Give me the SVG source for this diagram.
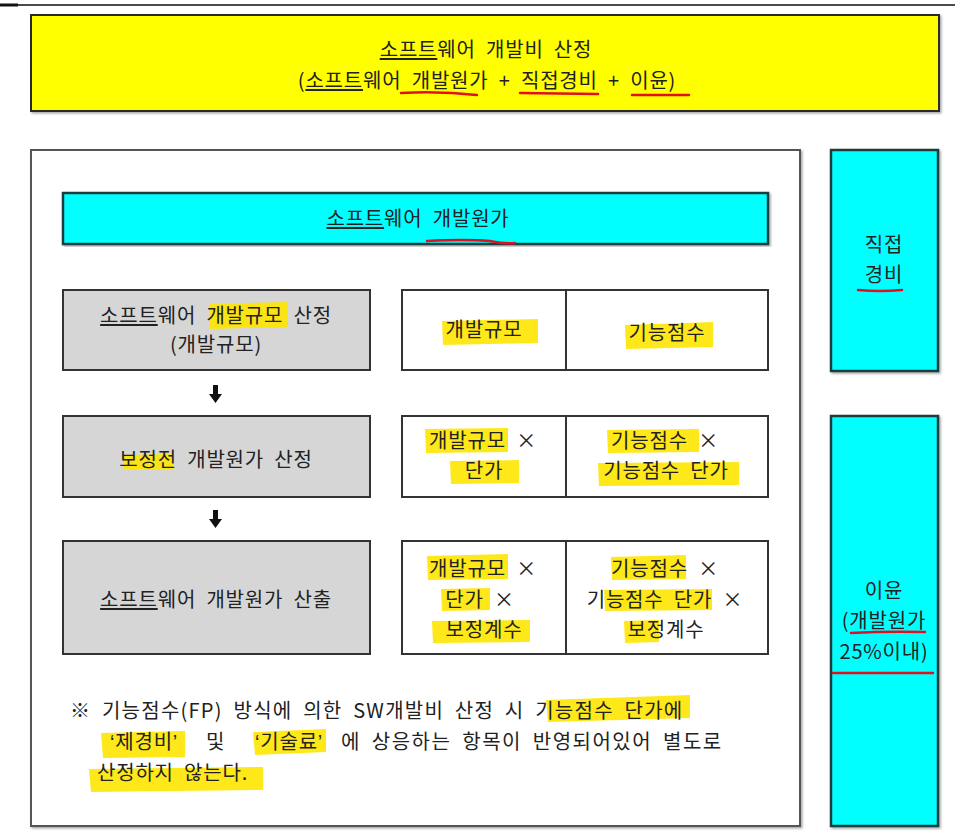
<svg xmlns="http://www.w3.org/2000/svg" width="955" height="834" viewBox="0 0 955 834">
<defs>
<style>
text{font-family:"Noto Sans CJK KR","Noto Sans",sans-serif;font-size:20px;fill:#222;letter-spacing:0.8px;word-spacing:5px;text-anchor:middle}
.note{text-anchor:start}
.q{font-family:"Liberation Sans",sans-serif}
.u{text-decoration:underline}
.box{stroke:#2a2a2a;stroke-width:2}
.gray{fill:#d6d6d6;stroke:#333;stroke-width:2}
.cell{fill:#fff;stroke:#333;stroke-width:2}
.cyan{fill:#00ffff;stroke:#1d3d3d;stroke-width:2.5}
.hl{fill:#ffe600;opacity:0.9}
.red{fill:none;stroke:#e01020;stroke-width:2.5;stroke-linecap:round}
</style>
<filter id="sh" x="-5%" y="-5%" width="110%" height="110%"><feDropShadow dx="1.5" dy="1.5" stdDeviation="1" flood-color="#000" flood-opacity="0.35"/></filter>
</defs>
<rect width="955" height="834" fill="#fff"/>
<line x1="0" y1="5" x2="955" y2="5" stroke="#111" stroke-width="1.5"/>
<line x1="0" y1="5" x2="18" y2="5" stroke="#111" stroke-width="3"/>

<g id="title">
<rect x="31" y="15" width="908" height="96" fill="#ffff00" class="box" filter="url(#sh)"/>
<path class="red" d="M401,93 Q440,91 477,95"/>
<path class="red" d="M520,93 L598,94"/>
<path class="red" d="M632,95 L689,95"/>
<text x="486" y="57"><tspan class="u">소프트</tspan>웨어 개발비 산정</text>
<text x="487" y="88">(<tspan class="u">소프트</tspan>웨어 개발원가 + 직접경비 + 이윤)</text>
</g>

<g id="main">
<rect x="31" y="150" width="769" height="676" fill="#fff" stroke="#555" stroke-width="2" filter="url(#sh)"/>
</g>

<g id="devcost">
<rect x="63" y="193" width="705" height="51" class="cyan" filter="url(#sh)"/>
<text x="418" y="226"><tspan class="u">소프트</tspan>웨어 개발원가</text>
<path class="red" d="M427,241 Q465,239 490,241 Q505,244 515,243"/>
</g>

<g id="step1">
<rect x="63" y="290" width="307" height="80" class="gray"/>
<polygon class="hl" points="209,304 288,302 288,327 210,329"/>
<text x="216" y="323"><tspan class="u">소프트</tspan>웨어 개발규모 산정</text>
<text x="216" y="352">(개발규모)</text>
</g>
<g id="step1-table">
<rect x="402" y="290" width="366" height="80" class="cell"/>
<line x1="566" y1="290" x2="566" y2="370" stroke="#333" stroke-width="2"/>
<polygon class="hl" points="442,321 538,319 538,343 443,345"/>
<polygon class="hl" points="625,325 713,322 713,347 626,349"/>
<text x="484" y="337">개발규모</text>
<text x="667" y="340">기능점수</text>
</g>

<g id="step2">
<rect x="63" y="416" width="307" height="81" class="gray"/>
<polygon class="hl" points="123,455 173,454 173,469 123,470"/>
<text x="216" y="467">보정전 개발원가 산정</text>
</g>
<g id="step2-table">
<rect x="402" y="416" width="366" height="81" class="cell"/>
<line x1="566" y1="416" x2="566" y2="497" stroke="#333" stroke-width="2"/>
<polygon class="hl" points="425,429 508,428 508,452 426,453"/>
<polygon class="hl" points="450,461 519,460 519,483 451,484"/>
<polygon class="hl" points="607,430 699,429 699,452 608,453"/>
<polygon class="hl" points="598,463 739,462 739,485 599,486"/>
<text x="483" y="448">개발규모 ×</text>
<text x="484" y="478">단가</text>
<text x="665" y="448">기능점수 ×</text>
<text x="666" y="478">기능점수 단가</text>
</g>

<g id="step3">
<rect x="63" y="541" width="307" height="113" class="gray"/>
<text x="216" y="607"><tspan class="u">소프트</tspan>웨어 개발원가 산출</text>
</g>
<g id="step3-table">
<rect x="402" y="541" width="366" height="113" class="cell"/>
<line x1="566" y1="541" x2="566" y2="654" stroke="#333" stroke-width="2"/>
<polygon class="hl" points="427,556 508,554 508,579 428,580"/>
<polygon class="hl" points="441,589 490,588 490,610 442,611"/>
<polygon class="hl" points="432,621 530,620 530,642 433,643"/>
<polygon class="hl" points="611,557 686,555 686,579 612,580"/>
<polygon class="hl" points="604,590 712,589 712,610 605,611"/>
<polygon class="hl" points="624,621 659,620 659,642 625,643"/>
<text x="483" y="576">개발규모 ×</text>
<text x="480" y="607">단가 ×</text>
<text x="484" y="637">보정계수</text>
<text x="665" y="576">기능점수 ×</text>
<text x="665" y="607">기능점수 단가 ×</text>
<text x="666" y="637">보정계수</text>
</g>

<g id="connectors">
<path d="M213,385 H218 V394 H222 L215.5,403 L209,394 H213 Z" fill="#111"/>
<path d="M213,510 H218 V519 H222 L215.5,528 L209,519 H213 Z" fill="#111"/>
</g>

<g id="note">
<polygon class="hl" points="546,700 690,695 690,718 548,722"/>
<polygon class="hl" points="101,733 185,731 185,757 103,758"/>
<polygon class="hl" points="253,732 326,729 326,752 255,755"/>
<polygon class="hl" points="89,769 263,767 263,790 91,792"/>
<text class="note" x="70" y="718" textLength="613" lengthAdjust="spacing">※ 기능점수(FP) 방식에 의한 SW개발비 산정 시 기능점수 단가에</text>
<text class="note" x="110" y="749"><tspan class="q">‘</tspan>제경비<tspan class="q">’</tspan></text>
<text class="note" x="206" y="749">및</text>
<text class="note" x="255" y="749"><tspan class="q">‘</tspan>기술료<tspan class="q">’</tspan></text>
<text class="note" x="341" y="749" textLength="381" lengthAdjust="spacing">에 상응하는 항목이 반영되어있어 별도로</text>
<text class="note" x="97" y="780">산정하지 않는다.</text>
</g>

<g id="direct">
<rect x="831" y="150" width="107" height="221" class="cyan" filter="url(#sh)"/>
<text x="884" y="252">직접</text>
<text x="884" y="282">경비</text>
<path class="red" d="M858,290 Q880,292 902,290"/>
</g>

<g id="profit">
<rect x="831" y="416" width="107" height="410" class="cyan" filter="url(#sh)"/>
<text x="884" y="598">이윤</text>
<text x="884" y="628">(개발원가</text>
<text x="884" y="659">25%이내)</text>
<path class="red" d="M851,633 Q888,631 925,632"/>
<path class="red" d="M833,673 L933,673"/>
</g>
</svg>
